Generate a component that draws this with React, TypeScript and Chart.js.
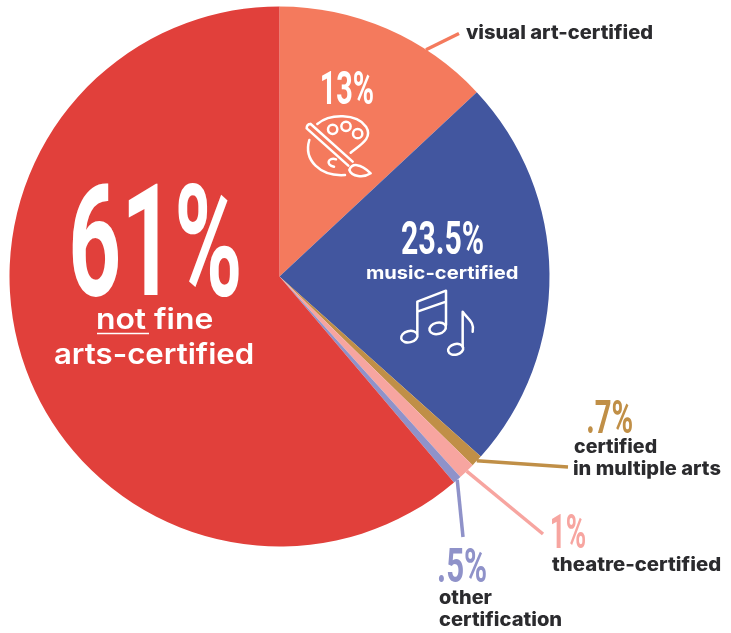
import React, { useEffect, useRef } from "react";
import { Chart, registerables } from "chart.js";

Chart.register(...registerables);

// Shares of arts teachers by certification, clockwise from twelve o'clock.
const categories = [
  "visual art-certified",
  "music-certified",
  "certified in multiple arts",
  "theatre-certified",
  "other certification",
  "not fine arts-certified",
];
const shares = [13, 23.5, 0.7, 1, 0.5, 61];
const sliceColors = ["#f47a5d", "#42569f", "#c08f47", "#f7a5a0", "#8f92c9", "#e1403b"];

const WHITE = "#ffffff";
const INK = "#2b2b2e";
const NUMBER_FONT = '700 100px "Liberation Sans Narrow", "Roboto"';
const percentText = (v: number) => `${v}%`.replace(/^0/, "");

// Big condensed percentages: slice index, left, right, cap top, baseline, colour.
const numberLabels: [number, number, number, number, number, string][] = [
  [5, 72, 239, 183, 295, WHITE],
  [0, 322, 373, 70, 104, WHITE],
  [1, 402, 483, 220, 254, WHITE],
  [2, 588, 632, 400, 433, sliceColors[2]],
  [3, 552, 585, 514, 548, sliceColors[3]],
  [4, 439, 486, 548, 582, sliceColors[4]],
];

// Captions: text, left, right, baseline, font, colour.
const CAPTION_DARK = '800 19px "Inter"';
const captions: [string, number, number, number, string, string][] = [
  ["not fine", 97, 212, 329, '600 29px "Inter"', WHITE],
  ["arts-certified", 55, 253, 364, '600 29px "Inter"', WHITE],
  ["music-certified", 367, 518, 279, '700 18px "Inter"', WHITE],
  ["visual art-certified", 466, 653, 39, CAPTION_DARK, INK],
  ["certified", 574, 657, 453, CAPTION_DARK, INK],
  ["in multiple arts", 574, 721, 475, CAPTION_DARK, INK],
  ["theatre-certified", 552, 721, 571, CAPTION_DARK, INK],
  ["other", 439, 492, 604, CAPTION_DARK, INK],
  ["certification", 439, 561, 626, CAPTION_DARK, INK],
];

// Leader lines: slice index, position along the slice's arc, outer end.
const leaders: [number, number, number, number][] = [
  [0, 0.7, 459, 33.5],
  [2, 0.5, 568, 467],
  [3, 0.5, 543, 534],
  [4, 0.5, 463, 537],
];

function fitText(
  ctx: CanvasRenderingContext2D,
  text: string,
  left: number,
  right: number,
  baseline: number,
  font: string,
  color: string,
  capHeight?: number,
) {
  ctx.save();
  ctx.font = font;
  ctx.fillStyle = color;
  ctx.textAlign = "left";
  ctx.textBaseline = "alphabetic";
  const m = ctx.measureText(text);
  const inkLeft = -m.actualBoundingBoxLeft;
  const inkWidth = m.actualBoundingBoxRight + m.actualBoundingBoxLeft;
  const sx = (right - left) / inkWidth;
  const sy = capHeight ? capHeight / m.actualBoundingBoxAscent : 1;
  ctx.translate(left, baseline);
  ctx.scale(sx, sy);
  ctx.fillText(text, -inkLeft, 0);
  ctx.restore();
}

// Line icons, traced on a 3x grid anchored at the top of the pie.
function drawIcons(ctx: CanvasRenderingContext2D) {
  ctx.save();
  ctx.translate(280, 0);
  ctx.scale(1 / 3, 1 / 3);
  ctx.strokeStyle = WHITE;
  ctx.lineWidth = 7.5;
  ctx.lineCap = "round";
  ctx.lineJoin = "round";
  const paths = [
    // palette
    "M112 372 C150 340 230 340 258 380 C280 415 240 435 212 458",
    "M88 420 C70 480 120 530 195 525",
    "M80 385 L205 497 M92 372 L218 485 M80 385 Q80 372 92 372",
    "M208 510 C215 490 240 488 272 520 C250 535 215 530 208 510",
    "M168 478 C145 470 135 495 162 500",
    // beamed notes
    "M412 1000 L412 905 L498 872 L498 975 M412 935 L498 905",
    // single note
    "M548 1040 L548 935 C560 955 585 965 578 995",
  ];
  paths.forEach((d) => ctx.stroke(new Path2D(d)));
  const circles: [number, number, number, number, number][] = [
    [158, 388, 14, 14, 0],
    [198, 379, 14, 14, 0],
    [233, 401, 14, 14, 0],
    [388, 1010, 25, 17, -0.25],
    [473, 985, 25, 17, -0.25],
    [527, 1048, 23, 16, -0.25],
  ];
  circles.forEach(([x, y, rx, ry, rot]) => {
    ctx.beginPath();
    ctx.ellipse(x, y, rx, ry, rot, 0, Math.PI * 2);
    ctx.stroke();
  });
  ctx.restore();
}

const annotationPlugin = {
  id: "pieAnnotations",
  afterDatasetsDraw(chart: Chart) {
    const ctx = chart.ctx;
    const arcs = chart.getDatasetMeta(0).data as any[];

    leaders.forEach(([index, along, x, y]) => {
      const arc = arcs[index];
      const angle = arc.startAngle + (arc.endAngle - arc.startAngle) * along;
      ctx.save();
      ctx.strokeStyle = sliceColors[index];
      ctx.lineWidth = 3.5;
      ctx.beginPath();
      ctx.moveTo(arc.x + Math.cos(angle) * arc.outerRadius, arc.y + Math.sin(angle) * arc.outerRadius);
      ctx.lineTo(x, y);
      ctx.stroke();
      ctx.restore();
    });

    numberLabels.forEach(([index, left, right, top, baseline, color]) => {
      fitText(ctx, percentText(shares[index]), left, right, baseline, NUMBER_FONT, color, baseline - top);
    });
    captions.forEach(([text, left, right, baseline, font, color]) => {
      fitText(ctx, text, left, right, baseline, font, color);
    });

    // Emphasis under "not"
    ctx.save();
    ctx.strokeStyle = WHITE;
    ctx.lineWidth = 1.5;
    ctx.beginPath();
    ctx.moveTo(97, 333.5);
    ctx.lineTo(149, 333.5);
    ctx.stroke();
    ctx.restore();

    drawIcons(ctx);
  },
};

export default function App() {
  const canvasRef = useRef<HTMLCanvasElement>(null);

  useEffect(() => {
    if (!canvasRef.current) return;
    const chart = new Chart(canvasRef.current, {
      type: "pie",
      data: {
        labels: categories,
        datasets: [{ data: shares, backgroundColor: sliceColors, borderWidth: 0 }],
      },
      options: {
        responsive: false,
        animation: false,
        layout: { padding: { left: 9.5, right: 181.5, top: 6.5, bottom: 86.5 } },
        plugins: { legend: { display: false }, tooltip: { enabled: false } },
      },
      plugins: [annotationPlugin],
    });
    return () => chart.destroy();
  }, []);

  return (
    <div style={{ position: "fixed", left: 0, top: 0, width: 731, height: 633, background: "#fff" }}>
      <canvas ref={canvasRef} width={731} height={633} style={{ display: "block" }} />
    </div>
  );
}
